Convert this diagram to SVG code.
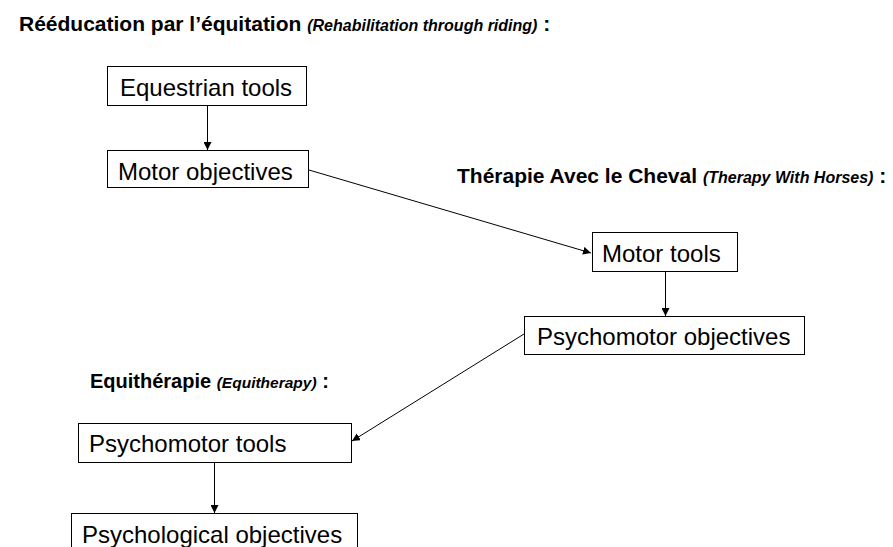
<svg xmlns="http://www.w3.org/2000/svg" width="893" height="547" viewBox="0 0 893 547">
<style>
.box{fill:#fff;stroke:#000;stroke-width:1}
.lbl{font-family:"Liberation Sans",Arial,sans-serif;font-size:24px;fill:#000}
.ttl{font-family:"Liberation Sans",Arial,sans-serif;font-weight:bold;fill:#000}
.sub{font-style:italic}
.con{stroke:#000;stroke-width:1;fill:none;marker-end:url(#ah)}
</style>
<defs>
<marker id="ah" viewBox="0 0 10 10" refX="10" refY="5" markerWidth="8" markerHeight="8" markerUnits="userSpaceOnUse" orient="auto">
<path d="M0,0 L10,5 L0,10 z" fill="#000"/>
</marker>
</defs>
<rect width="893" height="547" fill="#fff"/>
<g id="titles">
<text class="ttl" x="19" y="31" font-size="21">Rééducation par l’équitation <tspan class="sub" font-size="16">(Rehabilitation through riding)</tspan> :</text>
<text class="ttl" x="457" y="183" font-size="21">Thérapie Avec le Cheval <tspan class="sub" font-size="16">(Therapy With Horses)</tspan> :</text>
<text class="ttl" x="90" y="388" font-size="20">Equithérapie <tspan class="sub" font-size="15.5">(Equitherapy)</tspan> :</text>
</g>
<g id="connectors">
<line class="con" x1="207.5" y1="106" x2="207.5" y2="150"/>
<line class="con" x1="309" y1="170" x2="591" y2="253"/>
<line class="con" x1="665.5" y1="272" x2="665.5" y2="316"/>
<line class="con" x1="524" y1="334" x2="352" y2="441"/>
<line class="con" x1="214.5" y1="463" x2="214.5" y2="513"/>
</g>
<g id="n1"><rect class="box" x="107.5" y="66.5" width="199" height="39"/><text class="lbl" x="120" y="96">Equestrian tools</text></g>
<g id="n2"><rect class="box" x="107.5" y="150.5" width="201" height="37"/><text class="lbl" x="118" y="180">Motor objectives</text></g>
<g id="n3"><rect class="box" x="592.5" y="232.5" width="145" height="39"/><text class="lbl" x="602" y="262">Motor tools</text></g>
<g id="n4"><rect class="box" x="524.5" y="316.5" width="280" height="38"/><text class="lbl" x="537" y="345">Psychomotor objectives</text></g>
<g id="n5"><rect class="box" x="78.5" y="423.5" width="273" height="39"/><text class="lbl" x="89" y="452">Psychomotor tools</text></g>
<g id="n6"><rect class="box" x="71.5" y="513.5" width="286" height="40"/><text class="lbl" x="82" y="543">Psychological objectives</text></g>
</svg>
